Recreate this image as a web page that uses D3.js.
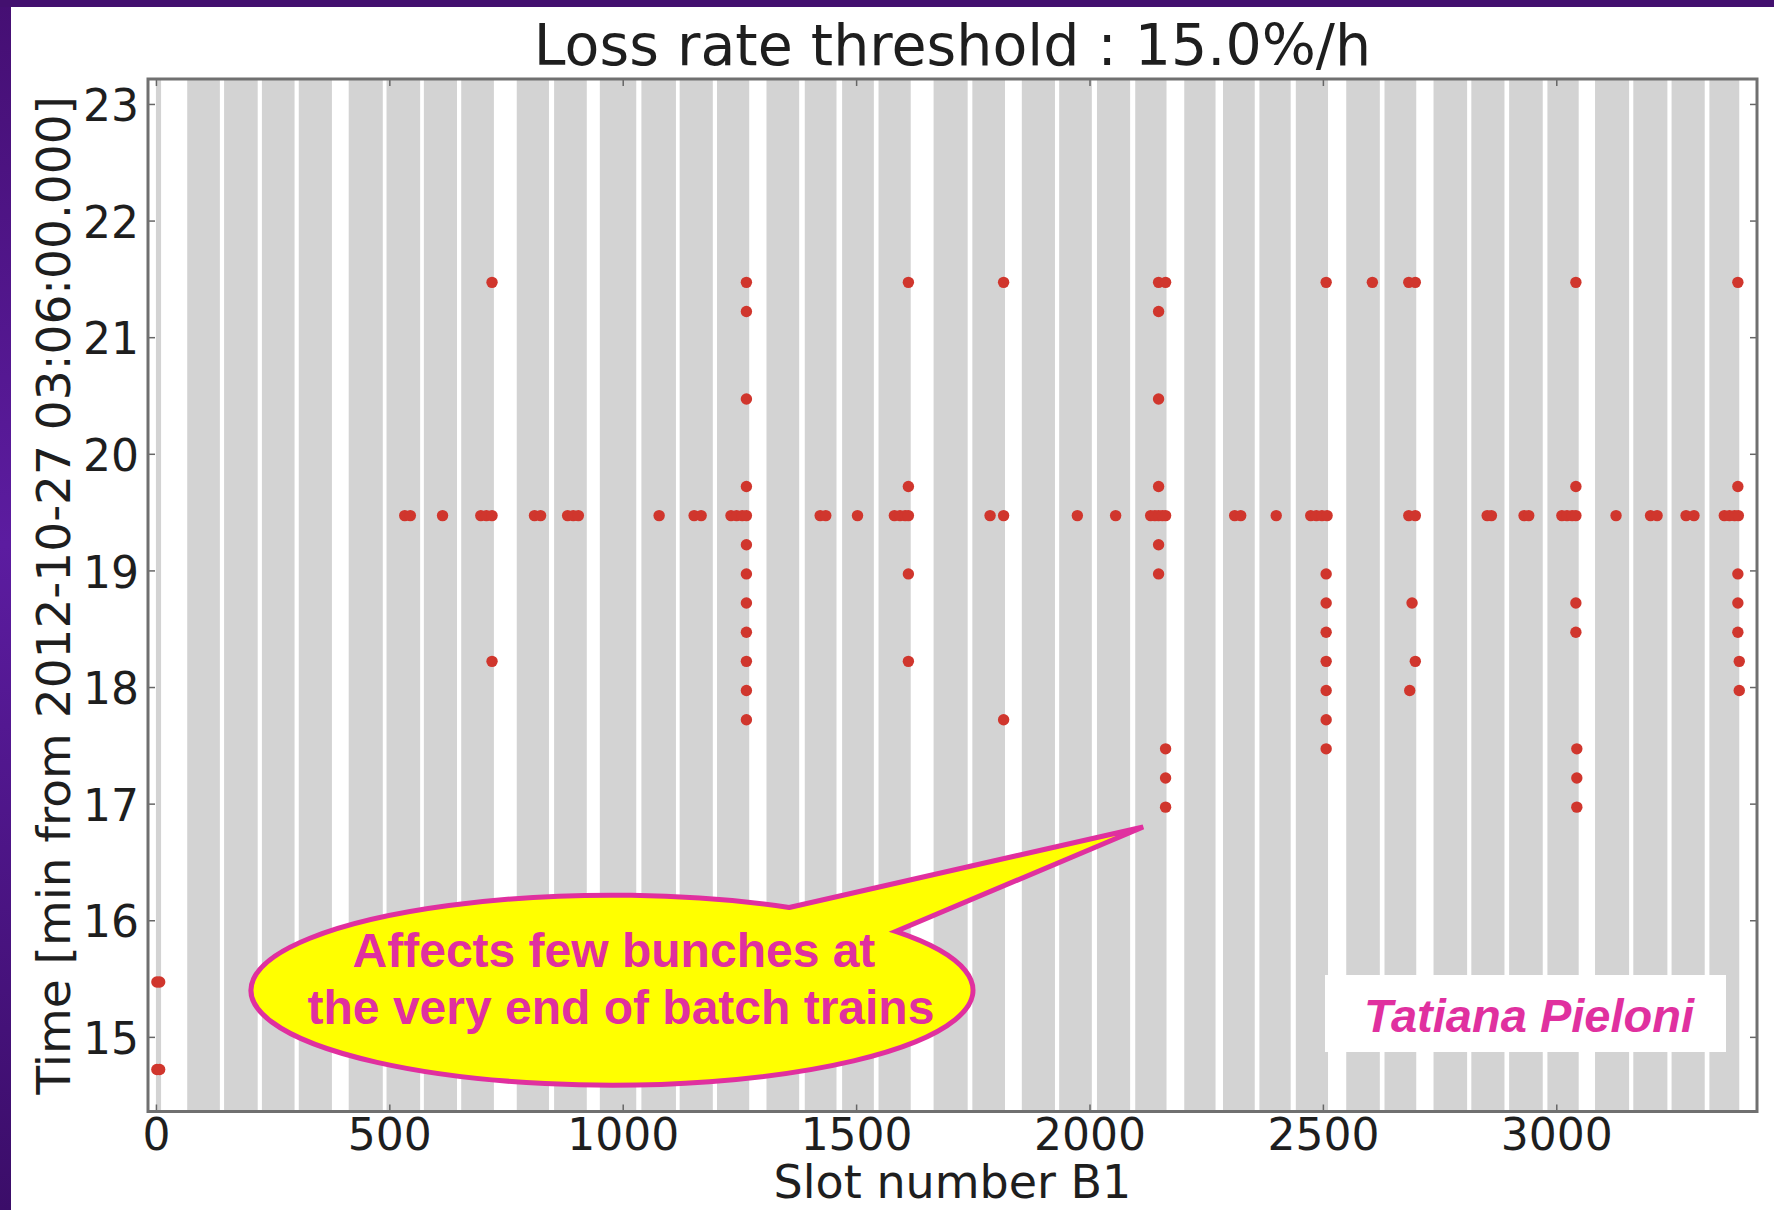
<!DOCTYPE html>
<html>
<head>
<meta charset="utf-8">
<script src="https://cdn.jsdelivr.net/npm/d3@7"></script>
<style>
  html, body { margin: 0; padding: 0; background: #fff; }
  svg { display: block; }
</style>
</head>
<body>
<div id="chart"></div>
<script>
// filled batches of the filling scheme (slot ranges)
const bands = [
  [0, 11],
  [67, 137], [146, 218], [227, 297], [306, 377],
  [413, 486], [494, 566], [574, 645], [654, 724],
  [773, 842], [853, 923],
  [951, 1029], [1040, 1114], [1122, 1193], [1202, 1271],
  [1308, 1378], [1390, 1458], [1470, 1538], [1548, 1617],
  [1666, 1739], [1749, 1819],
  [1855, 1926], [1935, 2005], [2016, 2087], [2098, 2165],
  [2203, 2270], [2286, 2354], [2364, 2431], [2442, 2511],
  [2550, 2622], [2632, 2700],
  [2737, 2809], [2818, 2889], [2899, 2971], [2981, 3048],
  [3083, 3156], [3165, 3238], [3247, 3318], [3328, 3392]
]

const xTicks = [0, 500, 1000, 1500, 2000, 2500, 3000]
const yTicks = [15, 16, 17, 18, 19, 20, 21, 22, 23]

// bunches over threshold at 19.47 min
const mainRowTime = 19.47
const mainRowSlots = [
  533, 545, 614, 696, 708, 720, 811, 824, 882, 894, 905, 1078, 1153, 1168,
  1232, 1244, 1256, 1265, 1423, 1435, 1503, 1582, 1594, 1605, 1612, 1787, 1816,
  1974, 2056, 2131, 2140, 2148, 2156, 2163, 2311, 2324, 2400, 2474, 2486, 2498,
  2509, 2684, 2698, 2852, 2861, 2931, 2941, 3012, 3023, 3034, 3042, 3128,
  3202, 3216, 3278, 3295, 3360, 3371, 3382, 3390
]

// bunches over threshold at 21.47 min
const topRowTime = 21.47
const topRowSlots = [720, 1265, 1612, 1816, 2148, 2163, 2507, 2606, 2684, 2698, 3042, 3389]

// remaining [slot, time] points
const otherPoints = [
  [2, 15.47], [8, 15.47], [2, 14.72], [8, 14.72],
  [720, 18.22],
  [1265, 21.22], [1265, 20.47], [1265, 19.72], [1265, 19.22], [1265, 18.97],
  [1265, 18.72], [1265, 18.47], [1265, 18.22], [1265, 17.97], [1265, 17.72],
  [1612, 19.72], [1612, 18.97], [1612, 18.22],
  [1816, 17.72],
  [2148, 21.22], [2148, 20.47], [2148, 19.72], [2148, 19.22], [2148, 18.97],
  [2163, 17.47], [2163, 17.22], [2163, 16.97],
  [2507, 18.97], [2507, 18.72], [2507, 18.47], [2507, 18.22], [2507, 17.97],
  [2507, 17.72], [2507, 17.47],
  [2691, 18.72], [2698, 18.22], [2686, 17.97],
  [3042, 19.72], [3042, 18.72], [3042, 18.47],
  [3044, 17.47], [3044, 17.22], [3044, 16.97],
  [3389, 19.72], [3389, 18.97], [3389, 18.72], [3389, 18.47],
  [3392, 18.22], [3392, 17.97]
]

const W = 1774
const H = 1210
const margin = { top: 79, left: 148, right: 17, bottom: 98.5 }
const width = W - margin.left - margin.right
const height = H - margin.top - margin.bottom

const magenta = '#e0309f'
const textColor = '#1e1e1e'

const svg = d3
  .select('#chart')
  .append('svg')
  .attr('width', W)
  .attr('height', H)

// slide frame
const grad = svg
  .append('defs')
  .append('linearGradient')
  .attr('id', 'frame-grad')
  .attr('x1', 0)
  .attr('y1', 0)
  .attr('x2', 0)
  .attr('y2', 1)
grad.append('stop').attr('offset', '0%').attr('stop-color', '#450f73')
grad.append('stop').attr('offset', '45%').attr('stop-color', '#5c1ca0')
grad.append('stop').attr('offset', '100%').attr('stop-color', '#3b0d69')
svg.append('rect').attr('width', 11).attr('height', H).attr('fill', 'url(#frame-grad)')
svg.append('rect').attr('width', W).attr('height', 7).attr('fill', '#43106f')

const g = svg
  .append('g')
  .attr('transform', 'translate(' + margin.left + ',' + margin.top + ')')

const xPositionScale = d3.scaleLinear().domain([-17, 3430]).range([0, width])
const yPositionScale = d3.scaleLinear().domain([14.36, 23.214]).range([height, 0])

g.selectAll('.band')
  .data(bands)
  .enter()
  .append('rect')
  .attr('class', 'band')
  .attr('x', d => xPositionScale(d[0]))
  .attr('width', d => xPositionScale(d[1]) - xPositionScale(d[0]))
  .attr('y', 0)
  .attr('height', height)
  .attr('fill', '#d3d3d3')

const points = mainRowSlots
  .map(s => [s, mainRowTime])
  .concat(topRowSlots.map(s => [s, topRowTime]))
  .concat(otherPoints)

g.selectAll('.loss')
  .data(points)
  .enter()
  .append('circle')
  .attr('class', 'loss')
  .attr('cx', d => xPositionScale(d[0]))
  .attr('cy', d => yPositionScale(d[1]))
  .attr('r', 5.7)
  .attr('fill', '#d0362d')

// axes, ticks pointing inwards
const fontTick = 44
const xAxis = d3
  .axisBottom(xPositionScale)
  .tickValues(xTicks)
  .tickFormat(d3.format('d'))
  .tickSize(-7)
  .tickPadding(7)
const yAxis = d3.axisLeft(yPositionScale).tickValues(yTicks).tickSize(-7).tickPadding(9)

const xg = g.append('g').attr('transform', 'translate(0,' + height + ')').call(xAxis)
const yg = g.append('g').call(yAxis)
g.append('g')
  .call(d3.axisTop(xPositionScale).tickValues(xTicks).tickSize(-7).tickFormat(''))
g.append('g')
  .attr('transform', 'translate(' + width + ',0)')
  .call(d3.axisRight(yPositionScale).tickValues(yTicks).tickSize(-7).tickFormat(''))

g.selectAll('.domain').remove()
g.selectAll('.tick line').attr('stroke', '#666').attr('stroke-width', 1.5)
g.selectAll('.tick text')
  .attr('font-family', 'DejaVu Sans, sans-serif')
  .attr('font-size', fontTick)
  .attr('fill', textColor)
yg.selectAll('.tick text').attr('dy', '0.38em')

g.append('rect')
  .attr('width', width)
  .attr('height', height)
  .attr('fill', 'none')
  .attr('stroke', '#707070')
  .attr('stroke-width', 3)

// title and labels
svg.append('text')
  .attr('x', margin.left + width / 2)
  .attr('y', 65)
  .attr('text-anchor', 'middle')
  .attr('font-family', 'DejaVu Sans, sans-serif')
  .attr('font-size', 57)
  .attr('fill', textColor)
  .text('Loss rate threshold : 15.0%/h')

svg.append('text')
  .attr('x', margin.left + width / 2)
  .attr('y', 1198)
  .attr('text-anchor', 'middle')
  .attr('font-family', 'DejaVu Sans, sans-serif')
  .attr('font-size', 46)
  .attr('fill', textColor)
  .text('Slot number B1')

svg.append('text')
  .attr('transform', 'translate(70,' + (margin.top + height / 2) + ') rotate(-90)')
  .attr('text-anchor', 'middle')
  .attr('font-family', 'DejaVu Sans, sans-serif')
  .attr('font-size', 47)
  .attr('fill', textColor)
  .text('Time [min from 2012-10-27 03:06:00.000]')

// speech-bubble annotation
const cx = xPositionScale(977)
const cy = yPositionScale(15.4)
const rx = 361
const ry = 95
const tipX = xPositionScale(2115)
const tipY = yPositionScale(16.8)
const a1 = (-60.6 * Math.PI) / 180
const a2 = (-38.2 * Math.PI) / 180
const ax = cx + rx * Math.cos(a1)
const ay = cy + ry * Math.sin(a1)
const bx = cx + rx * Math.cos(a2)
const by = cy + ry * Math.sin(a2)

const bubble = g.append('g')
bubble
  .append('path')
  .attr(
    'd',
    'M' + ax + ',' + ay +
      'L' + tipX + ',' + tipY +
      'L' + bx + ',' + by +
      'A' + rx + ',' + ry + ' 0 1 1 ' + ax + ',' + ay + 'Z'
  )
  .attr('fill', '#ffff00')
  .attr('stroke', magenta)
  .attr('stroke-width', 5)
  .attr('stroke-linejoin', 'miter')

bubble
  .selectAll('.bubble-line')
  .data(['Affects few bunches at', 'the very end of batch trains'])
  .enter()
  .append('text')
  .attr('class', 'bubble-line')
  .attr('x', (d, i) => cx + 2 + i * 7)
  .attr('y', (d, i) => cy - 23 + i * 57)
  .attr('text-anchor', 'middle')
  .attr('font-family', 'Liberation Sans, Arial, sans-serif')
  .attr('font-weight', 'bold')
  .attr('font-size', 48)
  .attr('fill', magenta)
  .text(d => d)

// author box
svg.append('rect')
  .attr('x', 1325)
  .attr('y', 975)
  .attr('width', 401)
  .attr('height', 77)
  .attr('fill', '#fff')

svg.append('text')
  .attr('x', 1529)
  .attr('y', 1032)
  .attr('text-anchor', 'middle')
  .attr('font-family', 'Liberation Sans, Arial, sans-serif')
  .attr('font-weight', 'bold')
  .attr('font-style', 'italic')
  .attr('font-size', 47)
  .attr('fill', magenta)
  .text('Tatiana Pieloni')
</script>
</body>
</html>
